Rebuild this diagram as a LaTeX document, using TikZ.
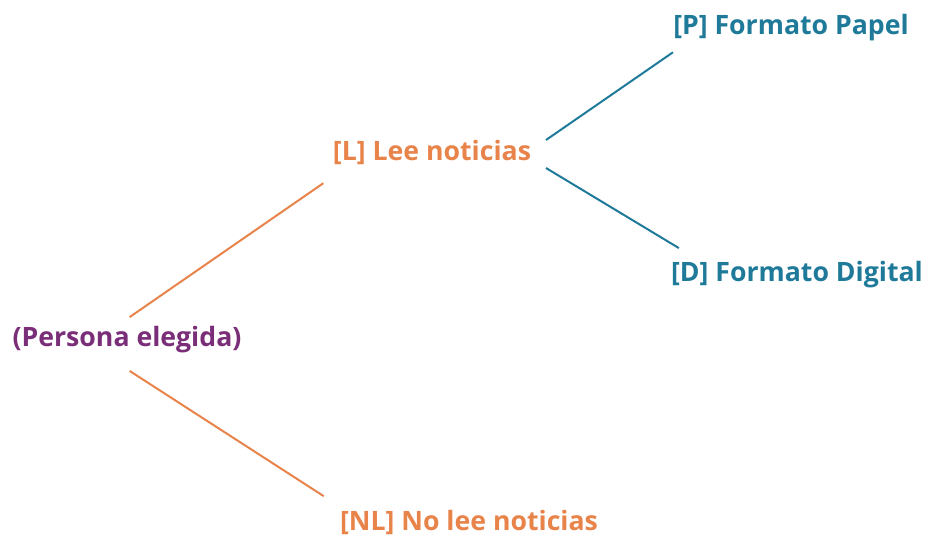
\documentclass[tikz,border=0pt]{standalone}
\usepackage{fontspec}
\setmainfont{Open Sans}
\usepackage{xcolor}
\usetikzlibrary{positioning,calc}

\definecolor{rootpurple}{HTML}{7A2E78}
\definecolor{branchorange}{HTML}{E8834A}
\definecolor{leafteal}{HTML}{1F7A9A}

\begin{document}
\begin{tikzpicture}[
    x=0.75pt, y=-0.75pt,
    lbl/.style={inner sep=2pt, font=\fontsize{20}{24}\selectfont\bfseries},
    oline/.style={draw=branchorange, line width=1.5pt},
    tline/.style={draw=leafteal, line width=1.5pt}
]
    \useasboundingbox (0,0) rectangle (930,537);

    % Root
    \node[lbl, text=rootpurple] (persona) at (127,340) {(Persona elegida)};

    % First level
    \node[lbl, text=branchorange] (lee) at (432,152) {[L] Lee noticias};
    \node[lbl, text=branchorange] (nolee) at (469,522) {[NL] No lee noticias};

    % Second level
    \node[lbl, text=leafteal] (papel) at (791,28) {[P] Formato Papel};
    \node[lbl, text=leafteal] (digital) at (797,275) {[D] Formato Digital};

    % Branches
    \draw[oline] ([xshift=2pt,yshift=5pt]persona.north) -- ([xshift=-5pt,yshift=-12pt]lee.south west);
    \draw[oline] ([xshift=2pt,yshift=-11pt]persona.south) -- ([xshift=-10pt,yshift=8pt]nolee.north west);
    \draw[tline] ([xshift=9pt,yshift=9pt]lee.east) -- ([xshift=2pt,yshift=-6pt]papel.south west);
    \draw[tline] ([xshift=9pt,yshift=-12pt]lee.east) -- ([xshift=8pt,yshift=8pt]digital.north west);
\end{tikzpicture}
\end{document}
